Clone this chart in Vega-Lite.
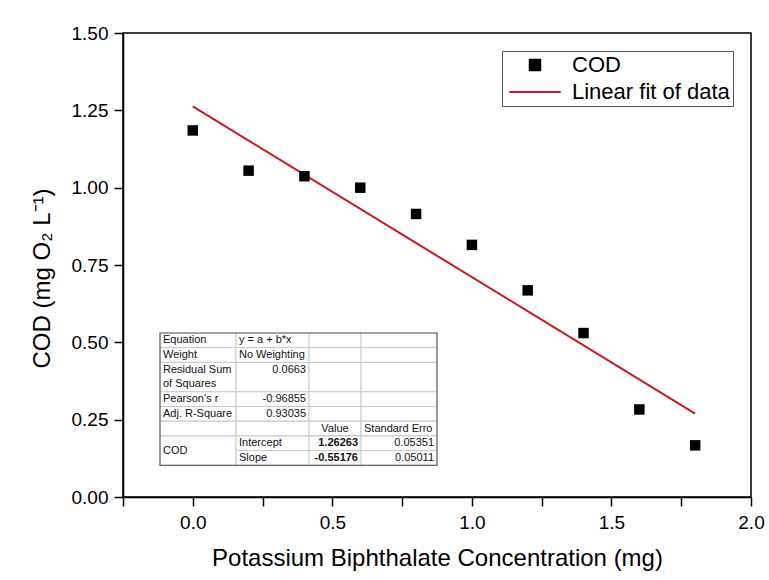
{
  "$schema": "https://vega.github.io/schema/vega-lite/v6.json",
  "width": 628,
  "height": 464,
  "autosize": {"type": "none"},
  "padding": {"left": 123, "top": 33, "right": 18, "bottom": 83},
  "background": "white",
  "config": {
    "view": {"stroke": "#000000", "strokeWidth": 1.5},
    "axis": {
      "domainColor": "#000000", "domainWidth": 1.5,
      "tickColor": "#000000", "tickWidth": 1.5, "ticks": true, "tickSize": 9,
      "labelColor": "#000000", "titleColor": "#000000",
      "labelFont": "Liberation Sans", "titleFont": "Liberation Sans",
      "labelFontSize": 19, "titleFontSize": 24, "titleFontWeight": "normal",
      "grid": false, "labelOverlap": false, "labelFlush": false
    }
  },
  "datasets": {
    "measured": [
      {"x": 0.0, "cod": 1.185, "series": "COD"},
      {"x": 0.2, "cod": 1.055, "series": "COD"},
      {"x": 0.4, "cod": 1.037, "series": "COD"},
      {"x": 0.6, "cod": 1.0, "series": "COD"},
      {"x": 0.8, "cod": 0.915, "series": "COD"},
      {"x": 1.0, "cod": 0.815, "series": "COD"},
      {"x": 1.2, "cod": 0.668, "series": "COD"},
      {"x": 1.4, "cod": 0.53, "series": "COD"},
      {"x": 1.6, "cod": 0.283, "series": "COD"},
      {"x": 1.8, "cod": 0.167, "series": "COD"}
    ],
    "fit": [
      {"x": 0.0, "cod": 1.26263, "series": "Linear fit of data"},
      {"x": 1.8, "cod": 0.26946, "series": "Linear fit of data"}
    ],
    "cells": [
      {"c0": 0, "c1": 1, "r0": 0, "r1": 1}, {"c0": 1, "c1": 2, "r0": 0, "r1": 1}, {"c0": 2, "c1": 3, "r0": 0, "r1": 1}, {"c0": 3, "c1": 4, "r0": 0, "r1": 1},
      {"c0": 0, "c1": 1, "r0": 1, "r1": 2}, {"c0": 1, "c1": 2, "r0": 1, "r1": 2}, {"c0": 2, "c1": 3, "r0": 1, "r1": 2}, {"c0": 3, "c1": 4, "r0": 1, "r1": 2},
      {"c0": 0, "c1": 1, "r0": 2, "r1": 4}, {"c0": 1, "c1": 2, "r0": 2, "r1": 4}, {"c0": 2, "c1": 3, "r0": 2, "r1": 4}, {"c0": 3, "c1": 4, "r0": 2, "r1": 4},
      {"c0": 0, "c1": 1, "r0": 4, "r1": 5}, {"c0": 1, "c1": 2, "r0": 4, "r1": 5}, {"c0": 2, "c1": 3, "r0": 4, "r1": 5}, {"c0": 3, "c1": 4, "r0": 4, "r1": 5},
      {"c0": 0, "c1": 1, "r0": 5, "r1": 6}, {"c0": 1, "c1": 2, "r0": 5, "r1": 6}, {"c0": 2, "c1": 3, "r0": 5, "r1": 6}, {"c0": 3, "c1": 4, "r0": 5, "r1": 6},
      {"c0": 0, "c1": 1, "r0": 6, "r1": 7}, {"c0": 1, "c1": 2, "r0": 6, "r1": 7}, {"c0": 2, "c1": 3, "r0": 6, "r1": 7}, {"c0": 3, "c1": 4, "r0": 6, "r1": 7},
      {"c0": 0, "c1": 1, "r0": 7, "r1": 9},
      {"c0": 1, "c1": 2, "r0": 7, "r1": 8}, {"c0": 2, "c1": 3, "r0": 7, "r1": 8}, {"c0": 3, "c1": 4, "r0": 7, "r1": 8},
      {"c0": 1, "c1": 2, "r0": 8, "r1": 9}, {"c0": 2, "c1": 3, "r0": 8, "r1": 9}, {"c0": 3, "c1": 4, "r0": 8, "r1": 9}
    ],
    "frame": [{"c0": 0, "c1": 4, "r0": 0, "r1": 9}],
    "cellText": [
      {"text": "Equation", "col": 0, "colEnd": 1, "line": 0, "kind": "label"},
      {"text": "y = a + b*x", "col": 1, "colEnd": 2, "line": 0, "kind": "label"},
      {"text": "Weight", "col": 0, "colEnd": 1, "line": 1, "kind": "label"},
      {"text": "No Weighting", "col": 1, "colEnd": 2, "line": 1, "kind": "label"},
      {"text": "Residual Sum", "col": 0, "colEnd": 1, "line": 2, "kind": "label"},
      {"text": "of Squares", "col": 0, "colEnd": 1, "line": 3, "kind": "label"},
      {"text": "0.0663", "col": 1, "colEnd": 2, "line": 2, "kind": "number"},
      {"text": "Pearson's r", "col": 0, "colEnd": 1, "line": 4, "kind": "label"},
      {"text": "-0.96855", "col": 1, "colEnd": 2, "line": 4, "kind": "number"},
      {"text": "Adj. R-Square", "col": 0, "colEnd": 1, "line": 5, "kind": "label"},
      {"text": "0.93035", "col": 1, "colEnd": 2, "line": 5, "kind": "number"},
      {"text": "Value", "col": 2, "colEnd": 3, "line": 6, "kind": "header"},
      {"text": "Standard Erro", "col": 3, "colEnd": 4, "line": 6, "kind": "label"},
      {"text": "COD", "col": 0, "colEnd": 1, "line": 7.5, "kind": "label"},
      {"text": "Intercept", "col": 1, "colEnd": 2, "line": 7, "kind": "label"},
      {"text": "1.26263", "col": 2, "colEnd": 3, "line": 7, "kind": "estimate"},
      {"text": "0.05351", "col": 3, "colEnd": 4, "line": 7, "kind": "number"},
      {"text": "Slope", "col": 1, "colEnd": 2, "line": 8, "kind": "label"},
      {"text": "-0.55176", "col": 2, "colEnd": 3, "line": 8, "kind": "estimate"},
      {"text": "0.05011", "col": 3, "colEnd": 4, "line": 8, "kind": "number"}
    ]
  },
  "layer": [
    {
      "layer": [
        {
          "data": {"name": "fit"},
          "mark": {"type": "line", "strokeWidth": 2},
          "encoding": {
            "x": {
              "field": "x", "type": "quantitative",
              "title": "Potassium Biphthalate Concentration (mg)",
              "scale": {"domain": [-0.25, 2.0], "nice": false, "zero": false},
              "axis": {
                "values": [-0.25, 0, 0.25, 0.5, 0.75, 1.0, 1.25, 1.5, 1.75, 2.0],
                "labelExpr": "abs(datum.value*2 - round(datum.value*2)) < 0.000001 ? format(datum.value, '.1f') : ''",
                "labelPadding": 7,
                "titlePadding": 14,
                "encode": {"ticks": {"update": {"y2": {"signal": "abs(datum.value*2 - round(datum.value*2)) < 0.000001 ? 9 : 5"}}}}
              }
            },
            "y": {
              "field": "cod", "type": "quantitative",
              "title": "COD (mg O₂ L⁻¹)",
              "scale": {"domain": [0, 1.5], "nice": false},
              "axis": {
                "values": [0, 0.125, 0.25, 0.375, 0.5, 0.625, 0.75, 0.875, 1.0, 1.125, 1.25, 1.375, 1.5],
                "labelExpr": "abs(datum.value*4 - round(datum.value*4)) < 0.000001 ? format(datum.value, '.2f') : ''",
                "labelPadding": 6,
                "titlePadding": 17,
                "titleY": 245,
                "encode": {"ticks": {"update": {"x2": {"signal": "abs(datum.value*4 - round(datum.value*4)) < 0.000001 ? -9 : -5"}}}}
              }
            },
            "color": {
              "field": "series", "type": "nominal",
              "scale": {"domain": ["COD", "Linear fit of data"], "range": ["#000000", "#c8161d"]},
              "legend": {
                "title": null,
                "orient": "top-right",
                "offset": 18,
                "padding": 3,
                "rowPadding": 5,
                "symbolSize": 110,
                "symbolOffset": 19,
                "labelOffset": 26,
                "labelFontSize": 22,
                "labelFont": "Liberation Sans",
                "labelColor": "#000000",
                "strokeColor": "#555555",
                "fillColor": "#ffffff",
                "symbolStrokeWidth": 2,
                "encode": {
                  "symbols": {
                    "update": {
                      "shape": {"signal": "datum.value === 'COD' ? 'square' : 'M-4.9,0H4.9'"},
                      "size": {"value": 110},
                      "fill": {"signal": "datum.value === 'COD' ? '#000000' : 'transparent'"},
                      "stroke": {"signal": "datum.value === 'COD' ? 'transparent' : '#c8161d'"},
                      "strokeWidth": {"value": 2},
                      "opacity": {"value": 1}
                    }
                  }
                }
              }
            }
          }
        },
        {
          "data": {"name": "measured"},
          "mark": {"type": "point", "shape": "square", "filled": true, "size": 110, "opacity": 1},
          "encoding": {
            "x": {"field": "x", "type": "quantitative"},
            "y": {"field": "cod", "type": "quantitative"},
            "color": {"field": "series", "type": "nominal"}
          }
        }
      ]
    },
    {
      "layer": [
        {
          "data": {"name": "cells"},
          "mark": {"type": "rect", "fill": "#ffffff", "stroke": "#c8c8c8", "strokeWidth": 1},
          "encoding": {
            "x": {"field": "c0", "type": "quantitative", "axis": null,
                  "scale": {"domain": [0, 1, 2, 3, 4], "range": [37, 113, 186, 238, 314], "nice": false, "zero": false}},
            "x2": {"field": "c1"},
            "y": {"field": "r0", "type": "quantitative", "axis": null,
                  "scale": {"domain": [0, 9], "range": [300, 432.3], "nice": false, "zero": false}},
            "y2": {"field": "r1"}
          }
        },
        {
          "data": {"name": "frame"},
          "mark": {"type": "rect", "fill": null, "fillOpacity": 0, "stroke": "#666666", "strokeWidth": 1.2},
          "encoding": {
            "x": {"field": "c0", "type": "quantitative", "axis": null},
            "x2": {"field": "c1"},
            "y": {"field": "r0", "type": "quantitative", "axis": null},
            "y2": {"field": "r1"}
          }
        },
        {
          "data": {"name": "cellText"},
          "transform": [{"filter": "datum.kind === 'label'"}],
          "mark": {"type": "text", "align": "left", "baseline": "middle", "dx": 3, "dy": 7.35, "fontSize": 11, "font": "Liberation Sans", "color": "#111111"},
          "encoding": {
            "x": {"field": "col", "type": "quantitative", "axis": null},
            "y": {"field": "line", "type": "quantitative", "axis": null},
            "text": {"field": "text"}
          }
        },
        {
          "data": {"name": "cellText"},
          "transform": [{"filter": "datum.kind === 'number'"}],
          "mark": {"type": "text", "align": "right", "baseline": "middle", "dx": -3, "dy": 7.35, "fontSize": 11, "font": "Liberation Sans", "color": "#111111"},
          "encoding": {
            "x": {"field": "colEnd", "type": "quantitative", "axis": null},
            "y": {"field": "line", "type": "quantitative", "axis": null},
            "text": {"field": "text"}
          }
        },
        {
          "data": {"name": "cellText"},
          "transform": [{"filter": "datum.kind === 'estimate'"}],
          "mark": {"type": "text", "align": "right", "baseline": "middle", "dx": -3, "dy": 7.35, "fontSize": 11, "fontWeight": "bold", "font": "Liberation Sans", "color": "#111111"},
          "encoding": {
            "x": {"field": "colEnd", "type": "quantitative", "axis": null},
            "y": {"field": "line", "type": "quantitative", "axis": null},
            "text": {"field": "text"}
          }
        },
        {
          "data": {"name": "cellText"},
          "transform": [{"filter": "datum.kind === 'header'"}],
          "mark": {"type": "text", "align": "center", "baseline": "middle", "dx": 26, "dy": 7.35, "fontSize": 11, "font": "Liberation Sans", "color": "#111111"},
          "encoding": {
            "x": {"field": "col", "type": "quantitative", "axis": null},
            "y": {"field": "line", "type": "quantitative", "axis": null},
            "text": {"field": "text"}
          }
        }
      ]
    }
  ],
  "resolve": {"scale": {"x": "independent", "y": "independent"}}
}
